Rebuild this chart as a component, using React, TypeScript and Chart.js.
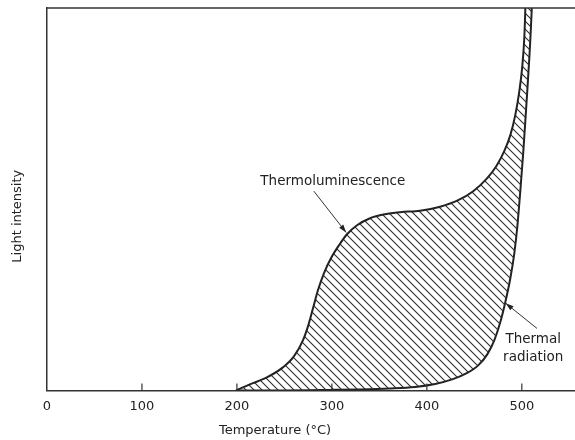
import { useEffect, useRef } from 'react';
import { Chart, registerables } from 'chart.js';

Chart.register(...registerables);

// x tick values (°C)
const xTicks = [0, 100, 200, 300, 400, 500];

// Upper curve: thermoluminescence + thermal radiation (temperature, light intensity)
const upperTemp = [199, 213.6, 231.5, 248.4, 260.0, 269.5, 274.8, 280.1, 285.3, 291.6, 299.0, 307.5, 315.9, 326.5, 340.2, 356.0, 371.8, 392.9, 414.0, 433.0, 448.8, 462.6, 473.1, 481.5, 487.9, 493.1, 497.4, 500.5, 502.6, 503.7, 505, 514];
const upperInt = [0, 1.57, 3.4, 6.02, 8.9, 13.09, 16.75, 21.47, 26.18, 30.63, 34.55, 37.96, 40.84, 43.19, 45.03, 46.07, 46.6, 46.99, 48.04, 49.74, 52.09, 55.24, 58.64, 62.57, 66.75, 71.99, 78.27, 84.82, 92.15, 100, 115, 200];

// Lower curve: thermal radiation only
const lowerTemp = [199, 250, 298.0, 329.6, 361.3, 387.6, 408.8, 426.7, 441.5, 454.1, 463.6, 471.0, 477.3, 482.6, 487.9, 492.1, 495.3, 498.4, 501.6, 504.7, 507.9, 510.5, 512.2];
const lowerInt = [0, 0, 0.13, 0.26, 0.52, 0.92, 1.7, 2.88, 4.45, 6.54, 9.42, 13.09, 17.8, 23.04, 29.32, 35.86, 42.93, 52.09, 62.57, 74.35, 86.91, 100, 113];

// Annotation labels (data coordinates)
const tlLabel = { text: 'Thermoluminescence', x: 301, y: 54.5 };
const tlArrow = { x1: 281, y1: 52.1, x2: 315, y2: 41.3 };
const trLabel = { lines: ['Thermal', 'radiation'], x: 512, y: [13.3, 8.6] };
const trArrow = { x1: 516, y1: 16.2, x2: 483, y2: 22.8 };

const xTitle = 'Temperature (°C)';
const yTitle = 'Light intensity';

const FONT = "'DejaVu Sans', sans-serif";

function arrow(ctx: CanvasRenderingContext2D, x1: number, y1: number, x2: number, y2: number) {
  ctx.beginPath();
  ctx.moveTo(x1, y1);
  ctx.lineTo(x2, y2);
  ctx.stroke();
  const a = Math.atan2(y2 - y1, x2 - x1);
  const len = 8;
  const w = 2.6;
  ctx.beginPath();
  ctx.moveTo(x2, y2);
  ctx.lineTo(x2 - len * Math.cos(a) + w * Math.sin(a), y2 - len * Math.sin(a) - w * Math.cos(a));
  ctx.lineTo(x2 - len * Math.cos(a) - w * Math.sin(a), y2 - len * Math.sin(a) + w * Math.cos(a));
  ctx.closePath();
  ctx.fill();
}

const decorPlugin = {
  id: 'decor',
  afterDraw(chart: any) {
    const { ctx, chartArea, scales } = chart;
    const xs = scales.x;
    const ys = scales.y;
    ctx.save();
    ctx.strokeStyle = '#333';
    ctx.fillStyle = '#222';
    // top frame line
    ctx.lineWidth = 1.5;
    ctx.beginPath();
    ctx.moveTo(chartArea.left, chartArea.top);
    ctx.lineTo(chartArea.right, chartArea.top);
    ctx.stroke();
    // inner tick marks
    ctx.lineWidth = 1.2;
    xTicks.forEach((v) => {
      if (v === 0) return;
      const px = xs.getPixelForValue(v);
      ctx.beginPath();
      ctx.moveTo(px, chartArea.bottom);
      ctx.lineTo(px, chartArea.bottom - 7);
      ctx.stroke();
    });
    // annotations
    ctx.font = `13.5px ${FONT}`;
    ctx.textAlign = 'center';
    ctx.textBaseline = 'middle';
    ctx.fillText(tlLabel.text, xs.getPixelForValue(tlLabel.x), ys.getPixelForValue(tlLabel.y));
    trLabel.lines.forEach((t, i) => {
      ctx.fillText(t, xs.getPixelForValue(trLabel.x), ys.getPixelForValue(trLabel.y[i]));
    });
    ctx.lineWidth = 1;
    arrow(ctx, xs.getPixelForValue(tlArrow.x1), ys.getPixelForValue(tlArrow.y1), xs.getPixelForValue(tlArrow.x2), ys.getPixelForValue(tlArrow.y2));
    arrow(ctx, xs.getPixelForValue(trArrow.x1), ys.getPixelForValue(trArrow.y1), xs.getPixelForValue(trArrow.x2), ys.getPixelForValue(trArrow.y2));
    // axis titles
    ctx.font = `13px ${FONT}`;
    ctx.fillText(xTitle, 275, chart.height - 9);
    ctx.translate(18, (chartArea.top + chartArea.bottom) / 2 + 17);
    ctx.rotate(-Math.PI / 2);
    ctx.fillText(yTitle, 0, 0);
    ctx.restore();
  },
};

export default function App() {
  const ref = useRef<HTMLCanvasElement | null>(null);
  useEffect(() => {
    const canvas = ref.current;
    if (!canvas) return;
    const pc = document.createElement('canvas');
    pc.width = 8;
    pc.height = 8;
    const p = pc.getContext('2d')!;
    p.strokeStyle = '#2e2e2e';
    p.lineWidth = 1.1;
    p.beginPath();
    p.moveTo(-1, -1);
    p.lineTo(9, 9);
    p.moveTo(-1, 7);
    p.lineTo(1, 9);
    p.moveTo(7, -1);
    p.lineTo(9, 1);
    p.stroke();
    const pattern = canvas.getContext('2d')!.createPattern(pc, 'repeat');

    Chart.defaults.font.family = FONT;
    const chart = new Chart(canvas, {
      type: 'line',
      data: {
        datasets: [
          {
            data: upperTemp.map((x, i) => ({ x, y: upperInt[i] })),
            borderColor: '#222',
            borderWidth: 2,
            pointRadius: 0,
            cubicInterpolationMode: 'monotone',
            fill: 1,
            backgroundColor: pattern as any,
          },
          {
            data: lowerTemp.map((x, i) => ({ x, y: lowerInt[i] })),
            borderColor: '#222',
            borderWidth: 2,
            pointRadius: 0,
            cubicInterpolationMode: 'monotone',
            fill: false,
          },
        ],
      },
      options: {
        animation: false,
        responsive: true,
        maintainAspectRatio: false,
        layout: { padding: { left: 47, top: 8, right: 0, bottom: 18 } },
        plugins: { legend: { display: false }, tooltip: { enabled: false } },
        scales: {
          x: {
            type: 'linear',
            min: 0,
            max: 556,
            afterBuildTicks: (s: any) => {
              s.ticks = xTicks.map((v) => ({ value: v }));
            },
            grid: { display: false, drawTicks: false },
            border: { display: true, color: '#333', width: 1.5 },
            ticks: { padding: 8, color: '#222', font: { size: 13 }, maxRotation: 0, autoSkip: false },
          },
          y: {
            min: 0,
            max: 100,
            grid: { display: false, drawTicks: false },
            ticks: { display: false },
            border: { display: true, color: '#333', width: 1.5 },
          },
        },
      },
      plugins: [decorPlugin],
    });
    return () => chart.destroy();
  }, []);
  return (
    <div style={{ position: 'absolute', left: 0, top: 0, width: 575, height: 440, background: '#fff' }}>
      <canvas ref={ref} />
    </div>
  );
}
